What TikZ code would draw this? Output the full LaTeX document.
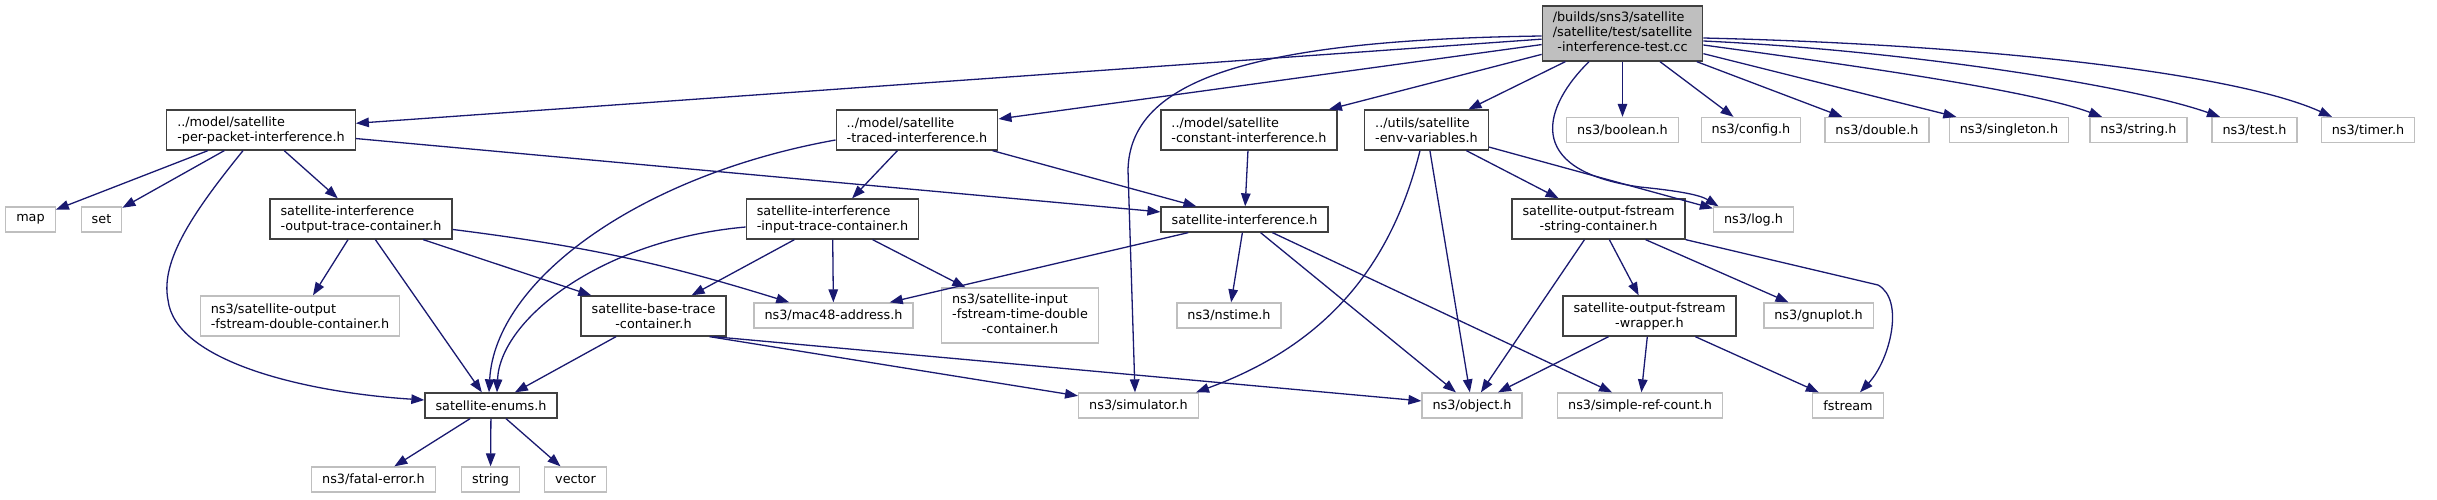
\documentclass[tikz,border=0pt]{standalone}
\usepackage{fontspec}
\setmainfont{DejaVu Sans}
\usetikzlibrary{arrows.meta}
\definecolor{edgeblue}{HTML}{191970}
\definecolor{extgray}{HTML}{BFBFBF}
\definecolor{docgray}{HTML}{404040}

\begin{document}
\begin{tikzpicture}[x=1pt, y=-1pt, every node/.style={font=\fontsize{12.8}{15}\selectfont, inner xsep=10.5pt, inner ysep=0pt, line width=1.3pt}, >={Triangle[length=13pt, width=9.5pt]},
	doc/.style={draw=docgray, fill=white, align=left},
	ext/.style={draw=extgray, fill=white, align=left},
	one/.style={minimum height=25pt}, two/.style={minimum height=40pt}, three/.style={minimum height=55pt},
	dep/.style={->, draw=edgeblue, line width=1.3pt}]
	\useasboundingbox (0,0) rectangle (2437,499);
	% top row
	\node[doc, three, fill=extgray] (root) at (1622.5,33.5) {\begin{tabular}{@{}l@{}}/builds/sns3/satellite\\ /satellite/test/satellite\\ \multicolumn{1}{@{}c@{}}{-interference-test.cc}\end{tabular}};
	\node[doc, two] (perpacket) at (261,130) {../model/satellite\\-per-packet-interference.h};
	\node[doc, two] (traced) at (917,130) {../model/satellite\\-traced-interference.h};
	\node[doc, two] (constant) at (1249,130) {../model/satellite\\-constant-interference.h};
	\node[doc, two] (envvars) at (1426.5,130) {../utils/satellite\\-env-variables.h};
	\node[ext, one] (boolean) at (1622.5,130) {ns3/boolean.h};
	\node[ext, one] (config) at (1751,130) {ns3/config.h};
	\node[ext, one] (double) at (1877,130) {ns3/double.h};
	\node[ext, one] (singleton) at (2009,130) {ns3/singleton.h};
	\node[ext, one] (stringh) at (2138.5,130) {ns3/string.h};
	\node[ext, one] (testh) at (2254.5,130) {ns3/test.h};
	\node[ext, one] (timer) at (2368,130) {ns3/timer.h};
	% second row
	\node[ext, one] (map) at (30.5,219.5) {map};
	\node[ext, one] (set) at (101.5,219.5) {set};
	\node[doc, two] (outtrace) at (361,219) {satellite-interference\\-output-trace-container.h};
	\node[doc, two] (intrace) at (832.5,219) {satellite-interference\\-input-trace-container.h};
	\node[doc, one] (satint) at (1244.5,219.5) {satellite-interference.h};
	\node[doc, two, align=center] (strcont) at (1598.5,219) {satellite-output-fstream\\-string-container.h};
	\node[ext, one] (log) at (1753.5,219.5) {ns3/log.h};
	% third row
	\node[ext, two] (outdouble) at (300,316) {ns3/satellite-output\\-fstream-double-container.h};
	\node[doc, two, align=center] (basetrace) at (653.5,316) {satellite-base-trace\\-container.h};
	\node[ext, one] (mac) at (833.5,315.5) {ns3/mac48-address.h};
	\node[ext, three] (timedouble) at (1020,315.5) {\begin{tabular}{@{}l@{}}ns3/satellite-input\\ -fstream-time-double\\ \multicolumn{1}{@{}c@{}}{-container.h}\end{tabular}};
	\node[ext, one] (nstime) at (1229,315.5) {ns3/nstime.h};
	\node[doc, two, align=center] (wrapper) at (1649.5,316) {satellite-output-fstream\\-wrapper.h};
	\node[ext, one] (gnuplot) at (1818.5,315.5) {ns3/gnuplot.h};
	% fourth row
	\node[doc, one] (enums) at (491,405.5) {satellite-enums.h};
	\node[ext, one] (simulator) at (1138.5,405.5) {ns3/simulator.h};
	\node[ext, one] (object) at (1472,405.5) {ns3/object.h};
	\node[ext, one] (refcount) at (1640,405.5) {ns3/simple-ref-count.h};
	\node[ext, one] (fstream) at (1848,405.5) {fstream};
	% bottom row
	\node[ext, one] (fatal) at (373.5,479.5) {ns3/fatal-error.h};
	\node[ext, one] (string) at (490.5,479.5) {string};
	\node[ext, one] (vector) at (575.5,479.5) {vector};
	% straight includes
	\foreach \a/\b in {root/perpacket, root/traced, root/constant, root/envvars, root/boolean, root/config, root/double, root/singleton,
		perpacket/map, perpacket/set, perpacket/outtrace, perpacket/satint, traced/intrace, traced/satint, constant/satint,
		envvars/object, envvars/strcont, envvars/log, outtrace/outdouble, outtrace/enums, outtrace/basetrace,
		intrace/basetrace, intrace/mac, intrace/timedouble, satint/mac, satint/nstime, satint/object, satint/refcount,
		basetrace/enums, strcont/object, strcont/wrapper, strcont/gnuplot, wrapper/object, wrapper/refcount, wrapper/fstream,
		enums/fatal, enums/string, enums/vector}
		{\draw[dep] (\a) -- (\b);}
	\draw[dep] (outtrace) to[bend left=5] (mac);
	\draw[dep] ([xshift=-17pt]basetrace.south east) -- (simulator);
	\draw[dep] ([xshift=-13pt]basetrace.south east) -- (object);
	% curved includes
	\draw[dep] ([yshift=-2.5pt]root.west) .. controls (1250,40) and (1130,80) .. (1128,170) -- ([xshift=-3.5pt]simulator.north);
	\draw[dep] ([xshift=-33.5pt]root.south) .. controls (1545,105) and (1520,170) .. (1640,187) .. controls (1680,191) and (1700,195) .. ([xshift=-35pt]log.north);
	\draw[dep] ([yshift=-11.5pt]root.east) .. controls (1850,65) and (2030,90) .. ([xshift=-36.5pt]stringh.north);
	\draw[dep] ([yshift=-7.5pt]root.east) .. controls (1900,50) and (2130,85) .. ([xshift=-34.5pt]testh.north);
	\draw[dep] ([yshift=-4.5pt]root.east) .. controls (2000,45) and (2240,75) .. ([xshift=-36pt]timer.north);
	\draw[dep] ([xshift=-18pt]perpacket.south) .. controls (195,210) and (160,260) .. (168,300) .. controls (175,360) and (300,392) .. ([yshift=5.5pt]enums.west);
	\draw[dep] ([yshift=-10pt]traced.west) .. controls (640,175) and (495,280) .. ([xshift=-2pt]enums.north);
	\draw[dep] ([yshift=-8pt]intrace.west) .. controls (600,240) and (500,320) .. ([xshift=6pt]enums.north);
	\draw[dep] ([xshift=-6.5pt]envvars.south) .. controls (1395,250) and (1340,340) .. ([xshift=57.5pt]simulator.north);
	\draw[dep] (strcont.south east) -- (1878,285) .. controls (1905,300) and (1890,360) .. ([xshift=12pt]fstream.north);
\end{tikzpicture}
\end{document}
